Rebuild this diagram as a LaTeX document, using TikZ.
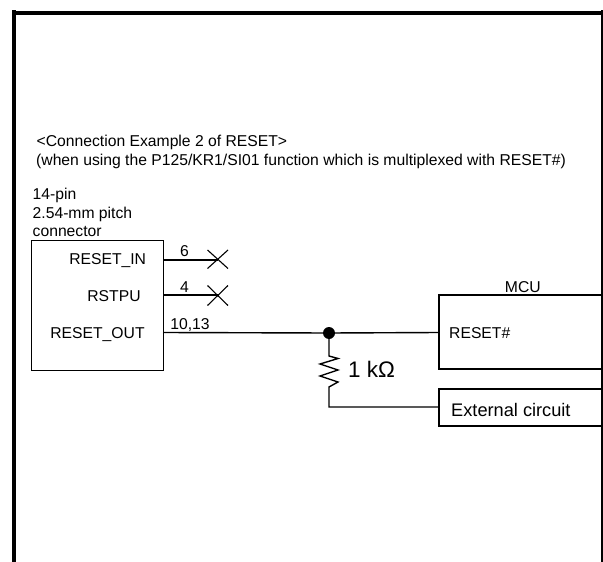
\documentclass[tikz,border=0pt]{standalone}
\usepackage{fontspec}
\setmainfont{Liberation Sans}
\tikzset{
  wire/.style={line width=1.4pt,line cap=butt},
  frameline/.style={line width=4.2pt,line cap=butt},
  boxed/.style={line width=1.4pt},
  lbl/.style={inner sep=0pt,font=\fontsize{15.7}{18}\selectfont,text=black},
  lblr/.style={lbl,anchor=base},
  lbll/.style={lbl,anchor=base west},
  dotnode/.style={circle,fill=black,inner sep=0pt,minimum size=12pt},
}
\begin{document}
\begin{tikzpicture}[x=1pt,y=-1pt]
\useasboundingbox (0,0) rectangle (603,562);
% frame
\coordinate (fa) at (14,562); \coordinate (fb) at (14,10);
\coordinate (fc) at (602,10); \coordinate (fd) at (602,562);
\coordinate (ta) at (12,13.1); \coordinate (tb) at (602,13.1);
\draw[frameline] (fa) -- (fb);
\draw[frameline] (ta) -- (tb);
\draw[line width=2pt] (fc) -- (fd);
% texts
\node[lbll] (h1) at (36.5,146.5) {<Connection Example 2 of RESET>};
\node[lbll] (h2) at (36,165.7) {(when using the P125/KR1/SI01 function which is multiplexed with RESET\#)};
\node[lbll] (c1) at (32.5,199) {14-pin};
\node[lbll] (c2) at (32.5,218) {2.54-mm pitch};
\node[lbll] (c3) at (32.5,236.5) {connector};
% connector box
\node[draw,boxed,anchor=north west,minimum width=132pt,minimum height=130pt,inner sep=0pt] (conn) at (31,240) {};
\node[lblr] (rin) at (107.7,264.3) {RESET\_IN};
\node[lblr] (rst) at (114,301) {RSTPU};
\node[lblr] (rout) at (97.5,338.3) {RESET\_OUT};
\coordinate (w1a) at (163,260); \coordinate (w1b) at (218,260);
\coordinate (w2a) at (163,295); \coordinate (w2b) at (218,295);
\coordinate (w3a) at (163,332.5);
\draw[wire] (w1a) -- (w1b);
\draw[wire] (w2a) -- (w2b);
\coordinate (x1a) at (207.5,250); \coordinate (x1b) at (228,268.5);
\coordinate (x1c) at (207.5,268.5); \coordinate (x1d) at (228,250);
\draw[line width=1.1pt] (x1a) -- (x1b) (x1c) -- (x1d);
\coordinate (x2a) at (207.5,285.5); \coordinate (x2b) at (228,305.5);
\coordinate (x2c) at (207.5,305.5); \coordinate (x2d) at (228,285.5);
\draw[line width=1.1pt] (x2a) -- (x2b) (x2c) -- (x2d);
\node[lblr] (n6) at (184.5,256.7) {6};
\node[lblr] (n4) at (184.5,292.3) {4};
\node[lblr] (n10) at (190,329.3) {10,13};
% MCU
\coordinate (mtl) at (601,295); \coordinate (mcl) at (439,295);
\coordinate (mbl) at (439,369); \coordinate (mbr) at (601,369);
\draw[boxed] (mtl) -- (mcl) -- (mbl) -- (mbr);
\node[lblr] (mcu) at (522.8,292.3) {MCU};
\node[lbll] (reset) at (449,338.3) {RESET\#};
% external
\coordinate (etr) at (601,389); \coordinate (etl) at (439,389);
\coordinate (ebl) at (439,426); \coordinate (ebr) at (601,426);
\draw[boxed] (etr) -- (etl) -- (ebl) -- (ebr);
\node[lbll,font=\fontsize{18.2}{20}\selectfont] (ext) at (451,416.7) {External circuit};
% net
\coordinate (mcuin) at (439,332.5);
\node[dotnode] (dot) at (329,333) {};
\draw[wire] (w3a) -- (dot) -- (mcuin);
\coordinate (r0) at (329,356); \coordinate (r7) at (329,387);
\coordinate (elbow) at (329,407); \coordinate (extin) at (439,407);
\coordinate (z1) at (338,358.5); \coordinate (z2) at (320,364);
\coordinate (z3) at (338,370); \coordinate (z4) at (320,376);
\coordinate (z5) at (338,382);
\draw[wire,line join=miter] (dot) -- (r0) -- (z1) -- (z2) -- (z3) -- (z4) -- (z5) -- (r7) -- (elbow) -- (extin);
\node[lbll,font=\fontsize{22.5}{24}\selectfont] (kohm) at (348,377.7) {1 k\symbol{"03A9}};
\end{tikzpicture}
\end{document}
